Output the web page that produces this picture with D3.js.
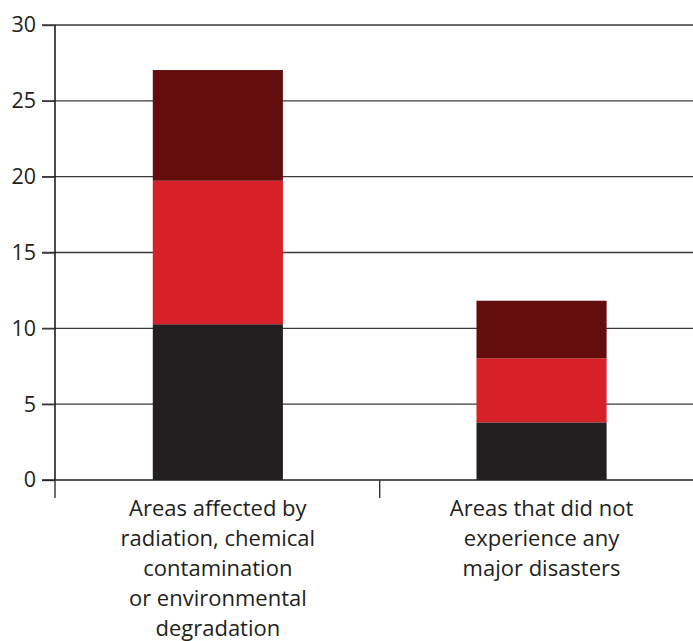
<!DOCTYPE html>
<html><head><meta charset="utf-8">
<script src="https://cdn.jsdelivr.net/npm/d3@7"></script>
<style>body{margin:0;background:#fff}svg{display:block}</style>
</head><body>
<svg id="c" width="693" height="641"></svg>
<script>
const categories = ["Areas affected by radiation, chemical contamination or environmental degradation",
                    "Areas that did not experience any major disasters"];
const categoryLines = [["Areas affected by","radiation, chemical","contamination","or environmental","degradation"],
                       ["Areas that did not","experience any","major disasters"]];
const seriesNames = ["bottom","middle","top"];
const bottomValues = [10.27, 3.80];
const middleValues = [9.46, 4.22];
const topValues = [7.30, 3.80];
const seriesColors = ["#231f20","#d82028","#640d0d"];
const yTicks = [0,5,10,15,20,25,30];

const svg = d3.select("#c");
const mLeft = 56, mRight = 703.4, mTop = 25, mBottom = 480;
const y = d3.scaleLinear().domain([0,30]).range([mBottom, mTop]);
const x = d3.scaleBand().domain(categories).range([mLeft, mRight]).paddingInner(0.598).paddingOuter(0.299);

const rows = categories.map((c,i)=>({cat:c, bottom:bottomValues[i], middle:middleValues[i], top:topValues[i]}));
const stack = d3.stack().keys(seriesNames)(rows);

// gridlines
svg.append("g").selectAll("line").data(yTicks.filter(d=>d>0)).join("line")
  .attr("x1", 42).attr("x2", 693).attr("y1", d=>y(d)).attr("y2", d=>y(d))
  .attr("stroke", "#3a3a3a").attr("stroke-width", 1.4);

// bars
svg.append("g").selectAll("g").data(stack).join("g").attr("fill",(d,i)=>seriesColors[i])
  .selectAll("rect").data(d=>d).join("rect")
  .attr("x", d=>x(d.data.cat)).attr("width", x.bandwidth())
  .attr("y", d=>y(d[1])).attr("height", d=>y(d[0])-y(d[1]));

// y axis
const yAxis = d3.axisLeft(y).tickValues(yTicks).tickSize(13).tickPadding(6);
const ga = svg.append("g").attr("transform",`translate(${mLeft-1},0)`).call(yAxis);
ga.select(".domain").attr("d", `M0,${y(30)}V${mBottom}`).attr("stroke","#111").attr("stroke-width",1.5);
ga.selectAll(".tick line").attr("stroke","#3a3a3a").attr("stroke-width",1.4);
ga.selectAll(".tick text").attr("font-family","'Open Sans', sans-serif").attr("font-size",21.5).attr("fill","#231f20");

// x axis line
svg.append("line").attr("x1",42).attr("x2",693).attr("y1",mBottom).attr("y2",mBottom)
  .attr("stroke","#222").attr("stroke-width",1.6);
// category separator ticks
const bounds = [x.range()[0]-1, (x(categories[0])+x.bandwidth()+x(categories[1]))/2];
svg.append("g").selectAll("line").data(bounds).join("line")
  .attr("x1",d=>d).attr("x2",d=>d).attr("y1",mBottom).attr("y2",mBottom+18)
  .attr("stroke","#333").attr("stroke-width",1.4);

// category labels
categories.forEach((c,i)=>{
  const t = svg.append("text").attr("text-anchor","middle")
    .attr("font-family","'Open Sans', sans-serif").attr("font-size",22).attr("fill","#231f20");
  categoryLines[i].forEach((ln,j)=>{
    t.append("tspan").attr("x", x(c)+x.bandwidth()/2).attr("y", 516 + j*30).text(ln);
  });
});
</script>
</body></html>
